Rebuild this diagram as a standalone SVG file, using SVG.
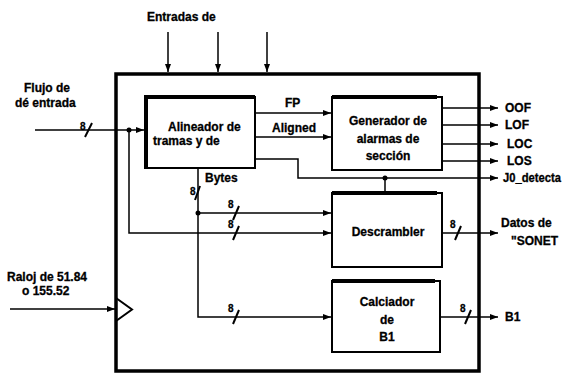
<svg xmlns="http://www.w3.org/2000/svg" width="565" height="373" viewBox="0 0 565 373">
<style>
text{font-family:"Liberation Sans",Arial,sans-serif;font-weight:bold;font-size:12px;fill:#000;stroke:#000;stroke-width:0.3}
.s{font-size:10px}
.c{text-anchor:middle}
.ln{stroke:#000;stroke-width:1.5;fill:none}
.sl{stroke:#000;stroke-width:2;fill:none}
.box{fill:#fff;stroke:#000;stroke-width:2}
.thk{stroke:#000;stroke-width:4;fill:none}
</style>
<defs>
<marker id="ah" markerWidth="8" markerHeight="6" refX="8" refY="3" orient="auto" markerUnits="userSpaceOnUse">
<path d="M0,0 L8,3 L0,6 Z" fill="#000"/>
</marker>
</defs>
<rect width="565" height="373" fill="#fff"/>

<g id="outer">
<rect x="116" y="74" width="363" height="297" fill="none" stroke="#000" stroke-width="3.5"/>
<path d="M116,298 L132,309.5 L116,321" fill="none" stroke="#000" stroke-width="2"/>
</g>

<g id="connectors">
<!-- top inputs -->
<line class="ln" x1="168" y1="32" x2="168" y2="72" marker-end="url(#ah)"/>
<line class="ln" x1="218" y1="32" x2="218" y2="72" marker-end="url(#ah)"/>
<line class="ln" x1="267" y1="32" x2="267" y2="72" marker-end="url(#ah)"/>
<!-- flujo input -->
<line class="ln" x1="35" y1="130" x2="144" y2="130" marker-end="url(#ah)"/>
<line class="sl" x1="85" y1="137" x2="92" y2="123"/>
<circle cx="129" cy="130" r="2.5" fill="#000"/>
<polyline class="ln" points="129,130 129,233 331,233" marker-end="url(#ah)"/>
<line class="sl" x1="233" y1="240" x2="239" y2="226"/>
<!-- FP / Aligned -->
<line class="ln" x1="255" y1="113" x2="331" y2="113" marker-end="url(#ah)"/>
<line class="ln" x1="255" y1="137" x2="331" y2="137" marker-end="url(#ah)"/>
<!-- J0 -->
<polyline class="ln" points="255,159 298,159 298,178 498,178" marker-end="url(#ah)"/>
<circle cx="385" cy="178" r="2.5" fill="#000"/>
<line class="ln" x1="385" y1="178" x2="385" y2="192"/>
<!-- alarm outputs -->
<line class="ln" x1="442" y1="108" x2="498" y2="108" marker-end="url(#ah)"/>
<line class="ln" x1="442" y1="125" x2="498" y2="125" marker-end="url(#ah)"/>
<line class="ln" x1="442" y1="144" x2="498" y2="144" marker-end="url(#ah)"/>
<line class="ln" x1="442" y1="161" x2="498" y2="161" marker-end="url(#ah)"/>
<!-- bytes -->
<polyline class="ln" points="198,168 198,317 331,317" marker-end="url(#ah)"/>
<line class="sl" x1="195" y1="200" x2="200" y2="186"/>
<circle cx="198" cy="213" r="2.5" fill="#000"/>
<line class="ln" x1="198" y1="213" x2="331" y2="213" marker-end="url(#ah)"/>
<line class="sl" x1="233" y1="220" x2="239" y2="206"/>
<line class="sl" x1="233" y1="324" x2="239" y2="310"/>
<!-- descrambler output -->
<line class="ln" x1="442" y1="233" x2="498" y2="233" marker-end="url(#ah)"/>
<line class="sl" x1="455" y1="240" x2="461" y2="226"/>
<!-- B1 output -->
<line class="ln" x1="440" y1="317" x2="498" y2="317" marker-end="url(#ah)"/>
<line class="sl" x1="465" y1="324" x2="471" y2="310"/>
<!-- clock -->
<line class="ln" x1="10" y1="309" x2="115" y2="309" marker-end="url(#ah)"/>
</g>

<g id="alineador">
<rect class="box" x="145" y="97" width="110" height="71"/>
<line class="thk" x1="145" y1="97" x2="255" y2="97"/>
<line class="thk" x1="146" y1="95" x2="146" y2="168"/>
<text x="168" y="131">Alineador de</text>
<text x="153" y="145">tramas y de</text>
</g>

<g id="generador">
<rect class="box" x="332" y="97" width="110" height="73"/>
<line class="thk" x1="332" y1="97" x2="437" y2="97"/>
<text class="c" x="388" y="125">Generador de</text>
<text class="c" x="388" y="143">alarmas de</text>
<text class="c" x="388" y="160">sección</text>
</g>

<g id="descrambler">
<rect class="box" x="332" y="193" width="110" height="74"/>
<line class="thk" x1="332" y1="193" x2="437" y2="193"/>
<text class="c" x="388" y="236">Descrambler</text>
</g>

<g id="calciador">
<rect class="box" x="332" y="281" width="108" height="71"/>
<line class="thk" x1="332" y1="281" x2="435" y2="281"/>
<text class="c" x="387" y="306">Calciador</text>
<text class="c" x="387" y="324">de</text>
<text class="c" x="387" y="341">B1</text>
</g>

<g id="labels">
<text x="147" y="21">Entradas de</text>
<text x="24" y="92">Flujo de</text>
<text x="15" y="107">dé entrada</text>
<text class="s" x="80" y="130">8</text>
<text x="285" y="107">FP</text>
<text x="272" y="132">Aligned</text>
<text x="205" y="182">Bytes</text>
<text class="s" x="190" y="195">8</text>
<text class="s" x="228" y="208">8</text>
<text class="s" x="228" y="228">8</text>
<text class="s" x="228" y="312">8</text>
<text class="s" x="450" y="228">8</text>
<text class="s" x="460" y="312">8</text>
<text x="505" y="112">OOF</text>
<text x="505" y="129">LOF</text>
<text x="507" y="148">LOC</text>
<text x="507" y="165">LOS</text>
<text x="503" y="182" textLength="58" lengthAdjust="spacingAndGlyphs">J0_detecta</text>
<text x="501" y="227">Datos de</text>
<text x="511" y="245">"SONET</text>
<text x="505" y="321">B1</text>
<text x="7" y="281">Raloj de 51.84</text>
<text x="22" y="295">o 155.52</text>
</g>
</svg>
